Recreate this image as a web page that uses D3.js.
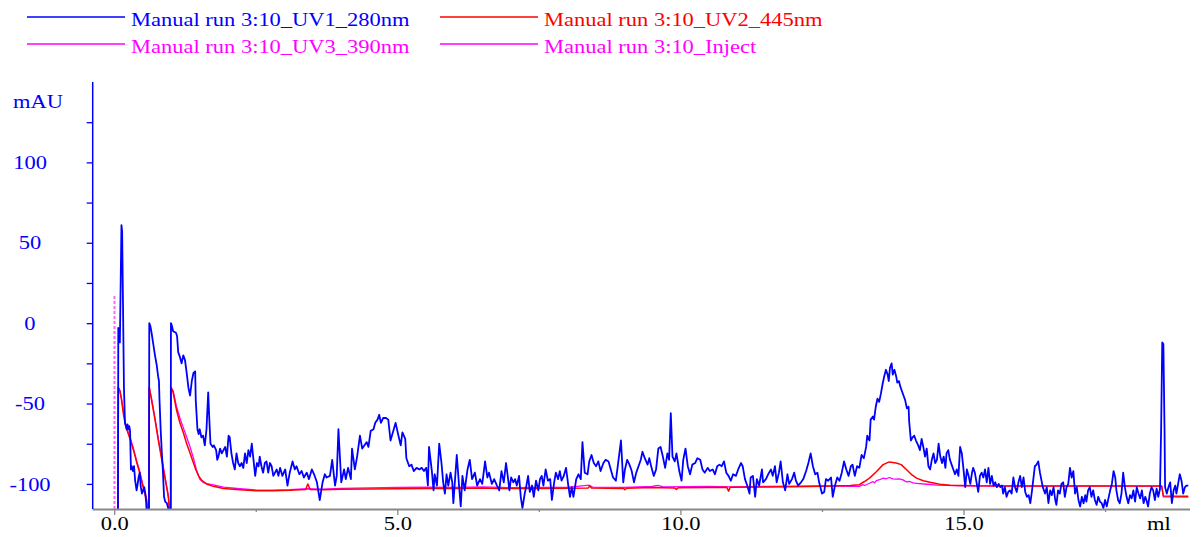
<!DOCTYPE html>
<html>
<head>
<meta charset="utf-8">
<script src="https://cdn.jsdelivr.net/npm/d3@7"></script>
<style>
  html, body { margin: 0; padding: 0; background: #fff; }
  svg { display: block; }
  text { font-family: "Liberation Serif", "Times New Roman", serif; font-size: 18px; }
</style>
</head>
<body>
<svg id="chart" width="1201" height="537"></svg>
<script>
// ---- data: volume (ml), absorbance (mAU) ----
const legendLabels = [
  "Manual run 3:10_UV1_280nm",
  "Manual run 3:10_UV2_445nm",
  "Manual run 3:10_UV3_390nm",
  "Manual run 3:10_Inject"
];

const xTicks = [0, 2.5, 5, 7.5, 10, 12.5, 15, 17.5];
const xLabelTicks = [0, 5, 10, 15];
const yTicks = [-100, -75, -50, -25, 0, 25, 50, 75, 100, 125];
const yLabelTicks = [-100, -50, 0, 50, 100];
const xUnit = "ml";
const yUnit = "mAU";

// Inject marker
const injectVolumes = [0.0];
const injectTop = 17;

// UV1 280 nm
const uv1 = [
  [0.066,-130],[0.072,-3],[0.085,-4],[0.1,-12],[0.115,28],[0.128,61],[0.14,57],[0.155,12],[0.172,-40],[0.19,-62],
  [0.205,-64],[0.22,-66],[0.235,-63],[0.25,-66],[0.265,-64],[0.28,-67],[0.295,-91],[0.31,-89],[0.33,-92],[0.35,-89],
  [0.37,-98],[0.395,-104],[0.41,-101],[0.43,-96],[0.45,-93],[0.47,-102],[0.49,-106],[0.51,-104],[0.53,-102],[0.55,-106],
  [0.565,-112],[0.585,-130],[0.613,-130],[0.619,0],[0.64,-2],[0.66,-6],[0.69,-13],[0.72,-20],[0.75,-26],[0.775,-33],
  [0.79,-36],[0.80,-48],[0.82,-66],[0.84,-80],[0.86,-92],[0.88,-108],[0.90,-111],[0.93,-112],[0.96,-116],[0.99,-130],
  [0.997,-130],[1.002,0],[1.014,-1],
  [1.04,-5],[1.09,-6],[1.11,-8],[1.13,-18],[1.16,-21],[1.19,-25],[1.22,-20],[1.25,-23],[1.28,-31],[1.31,-40],
  [1.34,-45],[1.37,-36],[1.40,-31],[1.43,-30],[1.44,-48],[1.47,-66],[1.49,-69],[1.51,-66],[1.54,-71],[1.57,-70],
  [1.60,-76],[1.63,-66],[1.66,-43],[1.68,-60],[1.70,-75],[1.74,-77],[1.76,-76],[1.80,-79],[1.82,-85],[1.84,-83],
  [1.87,-78],[1.90,-81],[1.93,-79],[1.96,-77],[1.99,-83],[2.02,-70],[2.04,-71],[2.07,-81],[2.10,-87],[2.13,-91],
  [2.16,-81],[2.19,-87],[2.22,-89],[2.25,-87],[2.28,-90],[2.31,-81],[2.34,-87],[2.37,-79],[2.40,-83],[2.43,-75],
  [2.46,-85],[2.49,-95],[2.52,-87],[2.55,-89],[2.57,-83],[2.60,-89],[2.63,-93],[2.66,-87],[2.69,-86],[2.72,-93],
  [2.75,-87],[2.78,-89],[2.81,-95],[2.84,-93],[2.87,-91],[2.90,-95],[2.93,-90],
  [2.97,-95],[3.02,-91],[3.06,-101],[3.10,-93],[3.15,-86],[3.19,-91],[3.22,-89],[3.27,-94],[3.31,-92],[3.35,-96],
  [3.40,-93],[3.44,-97],[3.49,-91],[3.53,-94],[3.58,-99],[3.63,-110],[3.68,-99],[3.72,-94],[3.75,-96],[3.81,-95],
  [3.85,-85],[3.90,-101],[3.93,-95],[3.96,-66],[4.01,-99],[4.06,-91],[4.09,-97],[4.13,-90],[4.18,-97],[4.20,-78],
  [4.25,-91],[4.29,-83],[4.34,-70],[4.38,-78],[4.42,-76],[4.46,-74],[4.49,-77],[4.53,-67],[4.58,-66],[4.61,-62],
  [4.65,-60],[4.68,-57],[4.71,-62],[4.75,-59],[4.80,-59],[4.84,-60],[4.88,-73],[4.93,-67],[4.97,-62],[5.02,-70],
  [5.06,-76],[5.09,-68],[5.14,-72],[5.16,-84],[5.21,-89],[5.25,-88],[5.29,-92],[5.34,-90],[5.39,-91],[5.43,-90],
  [5.47,-92],[5.51,-90],[5.54,-101],[5.56,-77],[5.61,-92],[5.64,-104],[5.66,-94],[5.70,-101],[5.74,-75],[5.78,-87],
  [5.81,-99],[5.84,-106],[5.87,-94],[5.90,-101],[5.94,-93],[5.97,-99],[5.99,-112],[6.05,-82],[6.09,-101],[6.12,-114],
  [6.15,-95],[6.19,-104],[6.24,-91],[6.28,-85],[6.32,-97],[6.37,-93],[6.41,-101],[6.46,-97],[6.50,-100],[6.55,-86],
  [6.59,-96],[6.62,-93],[6.67,-100],[6.71,-97],[6.76,-101],[6.80,-104],
  [6.84,-92],[6.88,-99],[6.92,-87],[6.95,-95],[6.98,-104],[7.01,-96],[7.05,-99],[7.08,-97],[7.11,-101],[7.15,-95],
  [7.18,-108],[7.21,-115],[7.25,-106],[7.28,-101],[7.31,-95],[7.34,-105],[7.38,-101],[7.41,-108],[7.45,-98],[7.49,-104],
  [7.52,-97],[7.55,-95],[7.58,-101],[7.62,-91],[7.66,-98],[7.70,-97],[7.73,-110],[7.77,-99],[7.80,-93],[7.84,-97],
  [7.87,-92],[7.90,-98],[7.94,-95],[7.98,-90],[8.02,-101],[8.05,-108],[8.08,-102],[8.11,-108],[8.16,-97],[8.20,-94],
  [8.24,-97],[8.27,-74],[8.31,-93],[8.36,-94],[8.39,-86],[8.43,-82],[8.47,-87],[8.51,-89],[8.55,-86],[8.59,-92],
  [8.64,-87],[8.68,-85],[8.73,-86],[8.77,-91],[8.81,-96],[8.86,-98],[8.90,-87],[8.95,-73],[8.99,-99],[9.02,-91],
  [9.06,-85],[9.10,-88],[9.14,-92],[9.18,-99],[9.22,-93],[9.26,-89],[9.30,-85],[9.33,-80],[9.37,-84],[9.42,-88],
  [9.45,-84],[9.49,-90],[9.53,-95],[9.57,-91],[9.61,-78],[9.65,-77],[9.69,-83],[9.73,-90],[9.77,-81],[9.80,-85],
  [9.83,-56],[9.86,-83],[9.90,-86],[9.93,-81],[9.98,-92],[10.02,-98],[10.05,-85],[10.09,-78],[10.13,-89],[10.17,-94],
  [10.21,-88],[10.26,-87],[10.30,-84],[10.35,-85],
  [10.39,-91],[10.43,-93],[10.48,-90],[10.52,-92],[10.57,-91],[10.61,-94],[10.65,-89],[10.69,-88],[10.73,-89],[10.77,-86],
  [10.81,-93],[10.85,-95],[10.89,-98],[10.93,-94],[10.98,-95],[11.02,-91],[11.07,-87],[11.10,-89],[11.14,-97],[11.18,-101],
  [11.22,-106],[11.24,-96],[11.28,-95],[11.32,-108],[11.35,-97],[11.39,-101],[11.44,-91],[11.46,-99],[11.51,-97],[11.55,-94],
  [11.60,-91],[11.63,-95],[11.67,-89],[11.70,-99],[11.74,-93],[11.77,-86],[11.81,-99],[11.85,-104],[11.89,-94],[11.92,-100],
  [11.97,-97],[12.01,-93],[12.04,-98],[12.08,-101],[12.13,-99],[12.17,-97],[12.22,-92],[12.26,-87],[12.30,-81],[12.34,-89],
  [12.38,-94],[12.42,-93],[12.45,-99],[12.50,-106],[12.54,-105],[12.57,-97],[12.61,-98],[12.66,-96],[12.69,-108],[12.73,-101],
  [12.77,-96],[12.81,-98],[12.85,-93],[12.89,-86],[12.93,-91],[12.97,-95],[13.01,-89],[13.04,-88],[13.08,-95],[13.12,-89],
  [13.16,-90],[13.20,-82],[13.24,-84],
  [13.28,-77],[13.30,-70],[13.34,-73],[13.36,-60],[13.40,-58],[13.42,-60],[13.45,-52],[13.48,-47],[13.51,-49],[13.54,-44],
  [13.57,-38],[13.60,-33],[13.63,-29],[13.66,-32],[13.68,-36],[13.70,-28],[13.73,-25],[13.75,-32],[13.78,-29],[13.81,-33],
  [13.83,-37],[13.86,-36],[13.88,-39],[13.91,-42],[13.94,-45],[13.97,-48],[14.00,-53],[14.03,-52],[14.04,-61],[14.07,-73],
  [14.10,-71],[14.13,-70],[14.16,-73],[14.20,-76],[14.23,-79],[14.26,-72],[14.29,-77],[14.32,-83],[14.35,-78],[14.38,-89],
  [14.41,-91],[14.44,-85],[14.47,-81],[14.50,-87],[14.53,-85],[14.56,-75],[14.59,-83],[14.62,-87],[14.65,-83],[14.68,-90],
  [14.70,-81],[14.73,-79],[14.76,-85],[14.79,-88],[14.82,-91],[14.85,-94],[14.88,-91],[14.91,-95],[14.94,-77],[14.97,-81],
  [15.00,-91],[15.03,-102],[15.06,-91],[15.09,-95],[15.12,-100],[15.15,-93],[15.17,-90],[15.20,-93],[15.23,-99],[15.26,-105],
  [15.29,-95],[15.32,-93],[15.35,-96],[15.38,-91],[15.41,-99],[15.44,-90],[15.47,-100],[15.50,-95],[15.53,-101],[15.56,-99],
  [15.59,-102],[15.62,-100],[15.65,-102],[15.68,-101],[15.70,-106],[15.73,-102],[15.76,-108],[15.79,-105],[15.82,-104],[15.85,-106],
  [15.88,-96],[15.91,-102],[15.94,-105],[15.97,-99],[16.00,-95],[16.03,-102],[16.06,-96],[16.09,-105],[16.12,-108],[16.15,-107],
  [16.18,-112],[16.21,-104],[16.23,-98],[16.26,-89],[16.29,-88],[16.32,-86],[16.35,-93],
  [16.40,-102],[16.44,-106],[16.47,-102],[16.50,-112],[16.53,-104],[16.56,-107],[16.59,-102],[16.62,-110],[16.64,-113],[16.67,-104],
  [16.70,-106],[16.73,-100],[16.76,-99],[16.79,-108],[16.82,-102],[16.85,-100],[16.88,-90],[16.91,-96],[16.94,-92],[16.97,-106],
  [17.00,-102],[17.03,-110],[17.06,-114],[17.09,-108],[17.12,-112],[17.15,-107],[17.17,-111],[17.20,-104],[17.23,-102],[17.26,-108],
  [17.29,-104],[17.32,-110],[17.35,-113],[17.38,-108],[17.41,-111],[17.44,-112],[17.47,-115],[17.50,-110],[17.53,-114],[17.56,-109],
  [17.59,-104],[17.62,-100],[17.65,-92],[17.68,-96],[17.70,-104],[17.73,-110],[17.76,-112],[17.79,-106],[17.82,-93],[17.85,-102],
  [17.88,-108],[17.91,-112],[17.94,-107],[17.97,-109],[18.00,-104],[18.03,-111],[18.06,-102],[18.09,-106],[18.12,-109],[18.15,-104],
  [18.18,-112],[18.21,-108],[18.23,-110],[18.26,-114],[18.29,-106],[18.32,-102],[18.35,-104],[18.38,-110],[18.41,-103],[18.44,-108],
  [18.47,-103],[18.49,-66],[18.51,-12],[18.53,-13],[18.55,-66],[18.56,-102],[18.59,-106],[18.62,-102],[18.65,-99],[18.68,-112],
  [18.71,-104],[18.74,-101],[18.76,-106],[18.79,-100],[18.82,-94],[18.85,-98],[18.88,-106],[18.91,-102],[18.94,-101],[18.97,-101]
];

// UV2 445 nm
const uv2 = [
  [0.068,-130],[0.073,-40],[0.10,-42],[0.13,-48],[0.16,-56],[0.19,-62],[0.22,-66],[0.28,-72],[0.34,-79],[0.40,-87],
  [0.45,-93],[0.51,-102],[0.57,-110],[0.60,-120],[0.612,-130],[0.619,-40],[0.66,-48],[0.72,-60],[0.78,-73],[0.84,-85],
  [0.90,-97],[0.955,-108],[0.985,-120],[0.997,-130],[1.003,-40],[1.04,-43],[1.10,-54],[1.16,-62],[1.22,-68],[1.28,-75],
  [1.34,-81],[1.40,-87],[1.44,-91],[1.49,-95],[1.55,-98],[1.63,-100],[1.75,-101.5],[1.93,-102.8],[2.22,-103.6],[2.52,-104.3],
  [2.81,-104.2],[3.10,-104],[3.38,-103.5],[3.42,-100],[3.46,-103.5],[3.69,-103.6],[4.0,-103.3],[4.5,-103.2],[5.0,-103],[5.5,-102.8],
  [6.0,-102.8],[6.5,-102.6],[6.8,-102.8],[7.5,-102.9],[8.0,-102.7],[8.37,-102.5],[8.40,-101.3],[8.43,-102.6],[9.0,-102.9],[9.02,-103.6],
  [9.05,-102.7],[9.5,-102.3],[9.9,-102.6],[9.93,-103.5],[9.96,-102.4],[10.5,-102.2],[10.82,-102.1],[10.85,-104.5],[10.88,-102.1],[11.5,-101.9],
  [12.0,-101.7],[12.5,-101.5],[13.0,-101],[13.16,-100.5],[13.25,-98.5],[13.34,-96.4],[13.46,-92.4],[13.58,-88],[13.69,-86.3],[13.81,-87],
  [13.90,-88],[14.0,-91.3],[14.09,-94.4],[14.17,-96.4],[14.29,-98],[14.41,-99],[14.58,-100.2],[14.76,-100.8],[15.2,-101.2],[16.0,-101.3],
  [17.0,-101.3],[18.0,-101.3],[18.50,-101.3],[18.53,-107.5],[18.97,-107.6]
];

// UV3 390 nm
const uv3 = [
  [0.068,-130],[0.073,-40],[0.10,-42],[0.13,-47],[0.16,-54],[0.19,-61],[0.22,-65],[0.28,-71],[0.34,-78],[0.40,-86],
  [0.45,-92],[0.51,-101],[0.57,-109],[0.60,-120],[0.612,-130],[0.619,-40],[0.66,-47],[0.72,-59],[0.78,-72],[0.84,-84],
  [0.90,-96],[0.955,-107],[0.985,-120],[0.997,-130],[1.003,-40],[1.04,-42],[1.10,-52],[1.16,-59],[1.22,-65],[1.28,-71],
  [1.34,-77],[1.40,-84],[1.45,-91],[1.51,-97],[1.57,-99],[1.63,-99.8],[1.75,-100.6],[1.93,-102],[2.22,-103],[2.52,-103.8],
  [2.81,-103.8],[3.10,-103.6],[3.40,-103],[3.69,-103.2],[4.0,-102.8],[4.5,-102.5],[5.0,-102.2],[5.5,-102],[6.0,-102.2],[6.5,-101.9],
  [7.0,-102.3],[7.5,-102.2],[8.0,-102.1],[8.39,-100.8],[8.45,-102],[9.0,-102.2],[9.5,-101.6],[9.6,-100.9],[9.7,-101.8],[10.5,-101.6],
  [10.9,-101.8],[11.5,-101.6],[12.0,-101.4],[12.5,-101.2],[13.0,-101.5],[13.16,-101.5],[13.22,-100.4],[13.25,-101],[13.34,-99.6],[13.40,-98.6],
  [13.43,-99.3],[13.46,-98],[13.52,-97.4],[13.58,-96.4],[13.64,-96.8],[13.69,-96],[13.75,-96.9],[13.81,-97],[13.87,-96.8],[13.93,-97.5],
  [13.99,-98.7],[14.05,-98.5],[14.11,-99.4],[14.17,-99.6],[14.35,-100.2],[14.53,-100.8],[15.0,-101.2],[16.0,-101.4],[17.0,-101.2],[18.0,-101.4],
  [18.50,-101.4],[18.53,-108],[18.97,-108.2]
];

// ---- layout ----
const svg = d3.select("#chart");
const plot = { left: 92.7, right: 1190, top: 82, bottom: 509 };
const stretch = 1.25; // horizontal text scale

const x = d3.scaleLinear().domain([-0.38, 19.0]).range([plot.left, plot.right]);
const y = d3.scaleLinear().domain([-115.6, 150]).range([plot.bottom, plot.top]);

const BLUE = "#0000ff", RED = "#ff0000", MAGENTA = "#ff00ff";

function stretchedText(parent, tx, ty, txt, anchor, color) {
  return parent.append("text")
    .attr("transform", `translate(${tx},${ty}) scale(${stretch},1)`)
    .attr("text-anchor", anchor)
    .attr("fill", color)
    .text(txt);
}

// ---- legend ----
const legend = svg.append("g");
const legendColors = [BLUE, RED, MAGENTA, MAGENTA];
const colX = [27, 440];
const rowY = [17, 44];
legendLabels.forEach((lab, i) => {
  const cx = colX[i % 2], ry = rowY[Math.floor(i / 2)];
  legend.append("line")
    .attr("x1", cx).attr("x2", cx + 98).attr("y1", ry).attr("y2", ry)
    .attr("stroke", legendColors[i]).attr("stroke-width", 1.5);
  stretchedText(legend, cx + 104, ry + 9, lab, "start", legendColors[i]);
});

// ---- traces ----
svg.append("defs").append("clipPath").attr("id", "plotClip")
  .append("rect")
  .attr("x", plot.left).attr("y", plot.top)
  .attr("width", plot.right - plot.left).attr("height", plot.bottom - plot.top);

const traces = svg.append("g").attr("clip-path", "url(#plotClip)");
const line = d3.line().x(d => x(d[0])).y(d => y(d[1]));

// inject marker (behind the curves)
traces.selectAll(".inject").data(injectVolumes).enter().append("line")
  .attr("class", "inject")
  .attr("x1", d => Math.round(x(d)) + 0.5).attr("x2", d => Math.round(x(d)) + 0.5)
  .attr("y1", y.range()[0]).attr("y2", y(injectTop))
  .attr("stroke", "#ff66ff").attr("stroke-width", 2).attr("stroke-dasharray", "3,2");

traces.append("path").datum(uv3).attr("d", line)
  .attr("fill", "none").attr("stroke", MAGENTA).attr("stroke-width", 1.3).attr("stroke-linejoin", "round");
traces.append("path").datum(uv2).attr("d", line)
  .attr("fill", "none").attr("stroke", RED).attr("stroke-width", 1.5).attr("stroke-linejoin", "round");
traces.append("path").datum(uv1).attr("d", line)
  .attr("fill", "none").attr("stroke", BLUE).attr("stroke-width", 1.8).attr("stroke-linejoin", "round");

// ---- x axis ----
const xAxis = svg.append("g")
  .attr("transform", `translate(0,${plot.bottom})`)
  .call(d3.axisBottom(x).tickValues(xTicks).tickSizeOuter(0).tickSize(6)
    .tickFormat(d => xLabelTicks.includes(d) ? d3.format(".1f")(d) : ""));
xAxis.select(".domain").attr("stroke", "#888").attr("stroke-width", 2)
  .attr("d", `M${plot.left},0.5H${plot.right}`);
xAxis.selectAll(".tick line").attr("stroke", "#888").attr("stroke-width", 1.3)
  .attr("y2", d => xLabelTicks.includes(d) ? 6 : 3);
xAxis.selectAll(".tick text")
  .attr("y", null).attr("dy", null)
  .attr("transform", `translate(0,21) scale(${stretch},1)`)
  .attr("fill", "#000")
  .style("font-family", '"Liberation Serif", "Times New Roman", serif')
  .style("font-size", "18px");
stretchedText(svg, x(18.45), plot.bottom + 21, xUnit, "middle", "#000");

// ---- y axis ----
const yAxis = svg.append("g")
  .attr("transform", `translate(${plot.left},0)`)
  .call(d3.axisLeft(y).tickValues(yTicks).tickSizeOuter(0).tickSize(6)
    .tickFormat(d => yLabelTicks.includes(d) ? String(d) : ""));
yAxis.select(".domain").attr("stroke", BLUE).attr("stroke-width", 1.5)
  .attr("d", `M0,${plot.top}V${plot.bottom}`);
yAxis.selectAll(".tick line").attr("stroke", BLUE).attr("stroke-width", 1.3);
yAxis.selectAll(".tick text")
  .attr("x", null).attr("dy", "0.34em")
  .attr("text-anchor", "middle")
  .attr("transform", `translate(${30 - plot.left},0) scale(${stretch},1)`)
  .attr("fill", BLUE)
  .style("font-family", '"Liberation Serif", "Times New Roman", serif')
  .style("font-size", "18px");
stretchedText(svg, 13, 108, yUnit, "start", BLUE);
</script>
</body>
</html>
